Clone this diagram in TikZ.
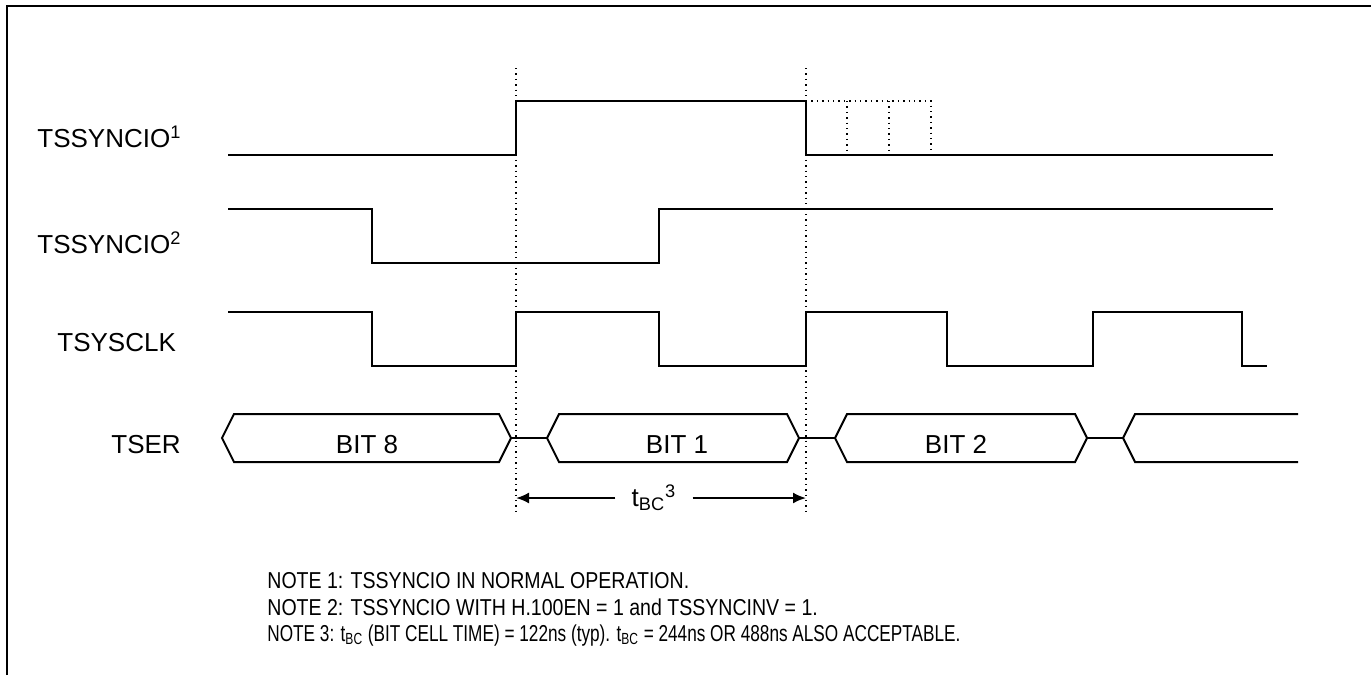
\documentclass[tikz,border=0pt]{standalone}
\usepackage{fontspec}
\setmainfont{Liberation Sans}
\newfontfamily\narrowfont{Liberation Sans}[FakeStretch=0.85]
\usetikzlibrary{arrows.meta}

\begin{document}
\begin{tikzpicture}[
  x=0.5pt, y=-0.5pt,
  frame/.style={line width=1.2pt},
  sig/.style={line width=1pt, line join=miter},
  guide/.style={dotted, line width=0.7pt},
  lbl/.style={font=\fontsize{13}{15}\selectfont, anchor=base west, inner sep=0pt},
  bitlbl/.style={font=\fontsize{13}{15}\selectfont, anchor=base, inner sep=0pt},
  note/.style={font=\narrowfont\fontsize{11.5}{13.5}\selectfont, anchor=base west, inner sep=0pt},
  arr/.style={-{Latex[length=6.5pt, width=5.5pt]}, line width=1pt}
]
\useasboundingbox (0,0) rectangle (1371,675);
\draw[frame] (7,675) -- (7,6) -- (1371,6);

\node[lbl] (syncone) at (37,147) {TSSYNCIO\textsuperscript{1}};
\node[lbl] (synctwo) at (37,253) {TSSYNCIO\textsuperscript{2}};
\node[lbl] (sysclk) at (57,351) {TSYSCLK};
\node[lbl] (tser) at (111,453) {TSER};

\draw[guide] (516,68) -- (516,515);
\draw[guide] (806,68) -- (806,515);

\draw[sig] (228,155) -- (516,155) -- (516,101) -- (806,101) -- (806,155) -- (1273,155);
\draw[guide] (806,101) -- (931,101) -- (931,155);
\draw[guide] (847,101) -- (847,155);
\draw[guide] (889,101) -- (889,155);

\draw[sig] (228,209) -- (372,209) -- (372,263) -- (659,263) -- (659,209) -- (1273,209);

\draw[sig] (228,312) -- (372,312) -- (372,366) -- (516,366) -- (516,312) -- (659,312)
  -- (659,366) -- (806,366) -- (806,312) -- (947,312) -- (947,366) -- (1093,366)
  -- (1093,312) -- (1242,312) -- (1242,366) -- (1267,366);

\draw[sig] (222,438) -- (234,414) -- (499,414) -- (511,438) -- (499,462) -- (234,462) -- cycle;
\draw[sig] (511,438) -- (547,438);
\draw[sig] (547,438) -- (559,414) -- (787,414) -- (799,438) -- (787,462) -- (559,462) -- cycle;
\draw[sig] (799,438) -- (835,438);
\draw[sig] (835,438) -- (847,414) -- (1075,414) -- (1087,438) -- (1075,462) -- (847,462) -- cycle;
\draw[sig] (1087,438) -- (1123,438);
\draw[sig] (1298,414) -- (1135,414) -- (1123,438) -- (1135,462) -- (1298,462);
\node[bitlbl] (biteight) at (367,453) {BIT 8};
\node[bitlbl] (bitone) at (677,453) {BIT 1};
\node[bitlbl] (bittwo) at (956,453) {BIT 2};

\coordinate (tbcleft) at (516,498);
\coordinate (tbcright) at (806,498);
\node[font=\fontsize{13}{15}\selectfont, inner xsep=8pt, inner ysep=0pt] (tbc) at (654,498)
  {t\textsubscript{BC}\textsuperscript{3}};
\draw[arr] (tbc.west |- tbcleft) -- (tbcleft);
\draw[arr] (tbc.east |- tbcright) -- (tbcright);

\node[note] (noteone) at (267,588) {NOTE 1: TSSYNCIO IN NORMAL OPERATION.};
\node[note] (notetwo) at (267,615) {NOTE 2: TSSYNCIO WITH H.100EN = 1 and TSSYNCINV = 1.};
\node[note] (notethree) at (267,641)
  {\scalebox{0.88}[1]{NOTE 3: t\textsubscript{BC} (BIT CELL TIME) = 122ns (typ). t\textsubscript{BC} = 244ns OR 488ns ALSO ACCEPTABLE.}};
\end{tikzpicture}
\end{document}
